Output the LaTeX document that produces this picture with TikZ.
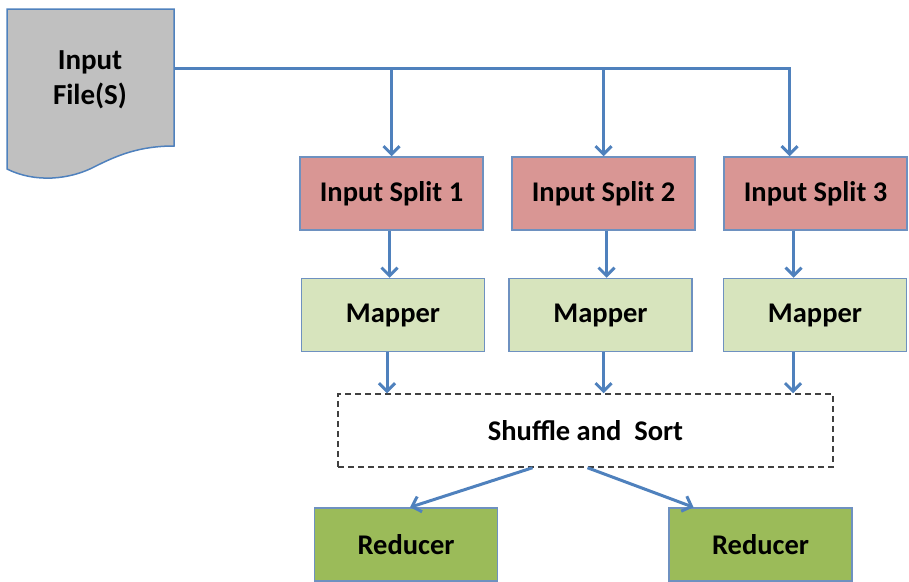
\documentclass[tikz,border=0pt]{standalone}
\usepackage{fontspec}
\setmainfont{Carlito}
\usetikzlibrary{arrows.meta}
\definecolor{linkblue}{RGB}{79,129,189}
\definecolor{boxedge}{RGB}{110,145,192}
\definecolor{splitred}{RGB}{217,150,148}
\definecolor{mapgreen}{RGB}{215,228,189}
\definecolor{reducegreen}{RGB}{155,187,89}
\definecolor{filegray}{RGB}{192,192,192}

\tikzset{
  box/.style={draw=boxedge, line width=1.5pt, minimum width=183pt, minimum height=73pt,
    inner sep=0pt, font=\fontsize{28.5}{35}\selectfont\bfseries},
  splitbox/.style={box, fill=splitred},
  mapbox/.style={box, fill=mapgreen},
  reducebox/.style={box, fill=reducegreen},
  shufflebox/.style={box, draw=black!75, dash pattern=on 6pt off 4pt, fill=white, minimum width=495pt},
  flow/.style={draw=linkblue, line width=3pt, -{Straight Barb[length=8pt,width=16pt]}},
}

\begin{document}
\begin{tikzpicture}[x=1pt, y=-1pt]
    \useasboundingbox (0,0) rectangle (909,581);

    % Input file (document shape)
    \draw[draw=linkblue, line width=1.5pt, fill=filegray]
      (7,9) -- (174,9) -- (174,146)
      .. controls (140,146) and (118,155) .. (96,166)
      .. controls (70,180) and (35,183) .. (7,169) -- cycle;
    \node[font=\fontsize{29}{35}\selectfont\bfseries, align=center] (file) at (90,80) {Input\\File(S)};
    \coordinate (fileout) at (174,68);

    % Splits
    \node[splitbox] (split1) at (391.5,193.5) {Input Split 1};
    \node[splitbox] (split2) at (603.5,193.5) {Input Split 2};
    \node[splitbox] (split3) at (815.5,193.5) {Input Split 3};

    % Mappers
    \node[mapbox] (map1) at (393,315) {Mapper};
    \node[mapbox] (map2) at (600.5,315) {Mapper};
    \node[mapbox] (map3) at (815,315) {Mapper};

    % Shuffle and sort
    \node[shufflebox] (shuffle) at (585.5,430.5) {Shuffle and\ \ Sort};

    % Reducers
    \node[reducebox] (reduce1) at (406,544.5) {Reducer};
    \node[reducebox] (reduce2) at (760.5,544.5) {Reducer};

    % File to splits
    \draw[flow] (fileout) -| ([xshift=-26pt]split3.north);
    \draw[flow] (fileout -| split1.north) -- (split1.north);
    \draw[flow] (fileout -| split2.north) -- (split2.north);

    % Splits to mappers
    \draw[flow] ([xshift=-2pt]split1.south) -- ([xshift=-2pt]split1.south |- map1.north);
    \draw[flow] ([xshift=3pt]split2.south) -- ([xshift=3pt]split2.south |- map2.north);
    \draw[flow] ([xshift=-22pt]split3.south) -- ([xshift=-22pt]split3.south |- map3.north);

    % Mappers to shuffle
    \draw[flow] ([xshift=-6pt]map1.south) -- ([xshift=-6pt]map1.south |- shuffle.north);
    \draw[flow] ([xshift=3pt]map2.south) -- ([xshift=3pt]map2.south |- shuffle.north);
    \draw[flow] ([xshift=-22pt]map3.south) -- ([xshift=-22pt]map3.south |- shuffle.north);

    % Shuffle to reducers
    \draw[flow] ([xshift=-53pt]shuffle.south) -- ([xshift=4pt]reduce1.north);
    \draw[flow] ([xshift=2pt]shuffle.south) -- ([xshift=-67pt]reduce2.north);
\end{tikzpicture}
\end{document}
